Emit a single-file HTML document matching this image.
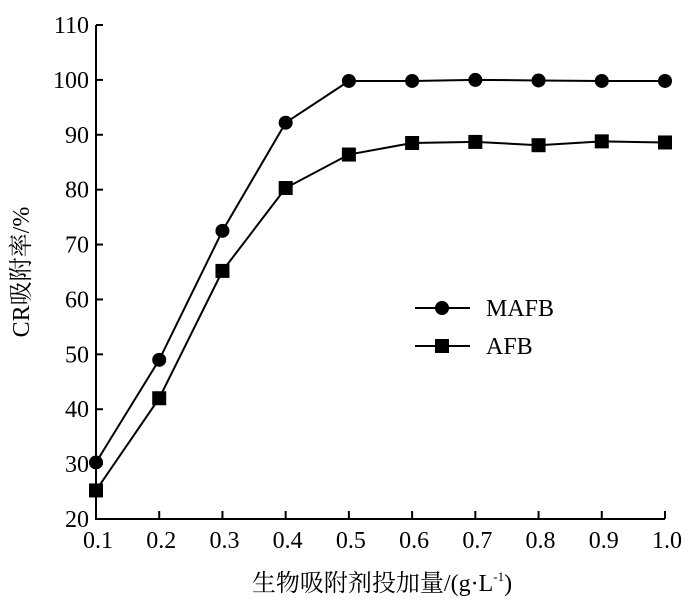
<!DOCTYPE html>
<html><head><meta charset="utf-8"><style>
body{margin:0;background:#fff}
svg text{font-family:"Liberation Serif","Noto Serif CJK SC",serif;fill:#000}
</style></head><body>
<svg width="700" height="601">
<g id="axes"></g>
<g id="series"></g>
<g>
<g>
<line x1="415" y1="308" x2="470" y2="308" stroke="#000" stroke-width="2"/>
<circle cx="442" cy="308" r="7" fill="#000"/>
<text x="486" y="316" font-size="24">MAFB</text></g>
<g>
<line x1="415" y1="346" x2="470" y2="346" stroke="#000" stroke-width="2"/>
<rect x="435" y="339" width="14" height="14" fill="#000"/>
<text x="486" y="354" font-size="24">AFB</text></g>
</g>
<text font-size="24" text-anchor="middle" transform="translate(29,272) rotate(-90)">CR吸附率/%</text>
<text font-size="24" text-anchor="middle" x="382" y="591">生物吸附剂投加量/(g·L<tspan font-size="13" dy="-10">-1</tspan><tspan dy="10">)</tspan></text>
</svg>
<script>
const xCats=[0.1,0.2,0.3,0.4,0.5,0.6,0.7,0.8,0.9,1.0];
const xLabels=["0.1","0.2","0.3","0.4","0.5","0.6","0.7","0.8","0.9","1.0"];
const yTicks=[20,30,40,50,60,70,80,90,100,110];
const mafb=[30.3,49,72.5,92.2,99.8,99.8,100,99.9,99.8,99.8];
const afb=[25.2,42,65.2,80.3,86.4,88.5,88.7,88.1,88.8,88.6];
const NS="http://www.w3.org/2000/svg";
const X=v=>96+(v-0.1)/0.9*569;
const Y=v=>519-(v-20)/90*494;
function mk(t,a,p){const e=document.createElementNS(NS,t);for(const k in a)e.setAttribute(k,a[k]);p.appendChild(e);return e;}
const ax=document.getElementById('axes');
const yl=mk('path',{d:`M96,${Y(110)}V519H${X(1.0)}`,fill:'none',stroke:'#000','stroke-width':2},ax);


yTicks.forEach(t=>{
 const l=mk('line',{x1:96,x2:103,y1:Y(t),y2:Y(t),stroke:'#000','stroke-width':2},ax);
 
 
 const tx=mk('text',{x:89,y:Y(t)+8,'font-size':24,'text-anchor':'end'},ax);
 
 
 tx.textContent=t;
});
xCats.forEach((c,i)=>{
 const l=mk('line',{x1:X(c),x2:X(c),y1:519,y2:511,stroke:'#000','stroke-width':2},ax);
 
 
 const tx=mk('text',{x:X(c)+2,y:548,'font-size':24,'text-anchor':'middle'},ax);
 
 
 tx.textContent=xLabels[i];
});
const sg=document.getElementById('series');
function series(vals,shape,name){
 const pl=mk('polyline',{points:vals.map((v,i)=>X(xCats[i])+','+Y(v)).join(' '),fill:'none',stroke:'#000','stroke-width':2},sg);
 
 
 vals.forEach((v,i)=>{
  let m;
  if(shape==='c')m=mk('circle',{cx:X(xCats[i]),cy:Y(v),r:7,fill:'#000'},sg);
  else m=mk('rect',{x:X(xCats[i])-7,y:Y(v)-7,width:14,height:14,fill:'#000'},sg);
  
  
 });
}
series(mafb,'c','mafb');
series(afb,'s','afb');
</script>
</body></html>
